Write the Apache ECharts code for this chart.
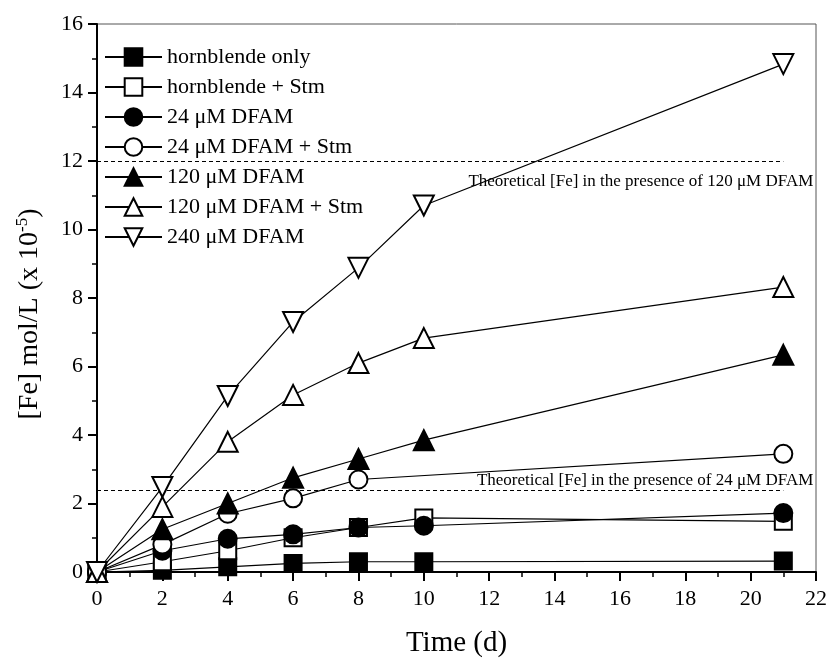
<!DOCTYPE html>
<html>
<head>
<meta charset="utf-8">
<script src="https://cdn.jsdelivr.net/npm/echarts@6/dist/echarts.min.js"></script>
<style>
html, body { margin: 0; padding: 0; background: #fff; }
#main { width: 830px; height: 659px; }
</style>
</head>
<body>
<div id="main"></div>
<script>
// sampling days
var days = [0, 2, 4, 6, 8, 10, 21];
// [Fe] values (x 1e-5 mol/L), null = not measured
var hornOnly = [0, 0.05, 0.15, 0.25, 0.3, 0.3, 0.32];
var hornStm = [0, 0.3, 0.62, 1.0, 1.3, 1.58, 1.48];
var dfam24 = [0, 0.62, 0.97, 1.1, 1.3, 1.35, 1.72];
var dfam24Stm = [0, 0.8, 1.7, 2.15, 2.7, null, 3.45];
var dfam120 = [0, 1.25, 2.0, 2.75, 3.3, 3.85, 6.34];
var dfam120Stm = [0, 1.9, 3.8, 5.17, 6.1, 6.83, 8.32];
var dfam240 = [0, 2.48, 5.14, 7.3, 8.88, 10.7, 14.83];

var names = [
    "hornblende only",
    "hornblende + Stm",
    "24 \u03bcM DFAM",
    "24 \u03bcM DFAM + Stm",
    "120 \u03bcM DFAM",
    "120 \u03bcM DFAM + Stm",
    "240 \u03bcM DFAM"
];
var values = [hornOnly, hornStm, dfam24, dfam24Stm, dfam120, dfam120Stm, dfam240];
var symbols = ["rect", "rect", "circle", "circle", "triangle", "triangle", "triangle"];
var filled = [true, false, true, false, true, false, false];
var rotate = [0, 0, 0, 0, 0, 0, 180];

// theoretical limits
var theoryLevels = [12, 2.4];
var theoryEnd = 21;
var theoryText = [
    "Theoretical [Fe] in the presence of 120 \u03bcM DFAM",
    "Theoretical [Fe] in the presence of 24 \u03bcM DFAM"
];

var font = "'Liberation Serif', 'Times New Roman', serif";

var s = document.getElementById("main");
var c = echarts.init(s);

var series = names.map(function (n, i) {
    var pts = [];
    for (var k = 0; k < days.length; k++) {
        if (values[i][k] != null) pts.push([days[k], values[i][k]]);
    }
    var sz = symbols[i] == "triangle" ? 20 : (symbols[i] == "rect" ? 17 : 18);
    return {
        name: n,
        type: "line",
        data: pts,
        symbol: symbols[i],
        symbolSize: sz,
        symbolRotate: rotate[i],
        showAllSymbol: true,
        clip: false,
        lineStyle: { color: "#000", width: 1.2 },
        itemStyle: {
            color: filled[i] ? "#000" : "#fff",
            borderColor: "#000",
            borderWidth: 2
        },
        emphasis: { disabled: true },
        z: 2 + i
    };
});

series[0].markLine = {
    silent: true,
    symbol: "none",
    label: { show: false },
    lineStyle: { color: "#000", type: [4, 3], width: 1 },
    data: theoryLevels.map(function (v) {
        return [{ coord: [0, v] }, { coord: [theoryEnd, v] }];
    })
};

var m = {
    animation: false,
    backgroundColor: "#fff",
    grid: {
        left: 97, right: 14, top: 24, bottom: 87,
        outerBoundsMode: "none",
        show: true, borderColor: "#555", borderWidth: 1
    },
    legend: {
        orient: "vertical",
        left: 99,
        top: 41,
        itemWidth: 57,
        itemHeight: 22,
        itemGap: 8,
        symbolRotate: "inherit",
        textStyle: { fontFamily: font, fontSize: 22, color: "#000", lineHeight: 22 },
        data: names
    },
    xAxis: {
        type: "value",
        min: 0, max: 22, interval: 2,
        name: "Time (d)",
        nameLocation: "middle",
        nameGap: 57,
        nameTextStyle: { fontFamily: font, fontSize: 29, color: "#000" },
        axisLine: { lineStyle: { color: "#000", width: 2 } },
        axisTick: { length: 9, lineStyle: { color: "#000", width: 2 } },
        minorTick: { show: true, splitNumber: 2, length: 5, lineStyle: { color: "#000", width: 1.5 } },
        axisLabel: { fontFamily: font, fontSize: 22, color: "#000", margin: 16 },
        splitLine: { show: false }
    },
    yAxis: {
        type: "value",
        min: 0, max: 16, interval: 2,
        name: "{a|[Fe] mol/L (x 10}{s|-5}{a|)}",
        nameLocation: "middle",
        nameGap: 52,
        nameRotate: 90,
        nameTextStyle: {
            padding: [0, 32, 0, 0],
            rich: {
                a: { fontFamily: font, fontSize: 28, color: "#000", lineHeight: 30 },
                s: { fontFamily: font, fontSize: 17, color: "#000", lineHeight: 30, padding: [0, 0, 14, 0] }
            }
        },
        axisLine: { lineStyle: { color: "#000", width: 2 } },
        axisTick: { length: 9, lineStyle: { color: "#000", width: 2 } },
        minorTick: { show: true, splitNumber: 2, length: 5, lineStyle: { color: "#000", width: 1.5 } },
        axisLabel: { fontFamily: font, fontSize: 22, color: "#000", margin: 14 },
        splitLine: { show: false }
    },
    series: series
};

m && "object" == typeof m && c.setOption(m, true);

// annotation texts next to the dashed lines
var p120 = c.convertToPixel({ gridIndex: 0 }, [theoryEnd, theoryLevels[0]]);
var p24 = c.convertToPixel({ gridIndex: 0 }, [theoryEnd, theoryLevels[1]]);
c.setOption({
    graphic: [
        {
            type: "text", x: p120[0] + 30, y: p120[1] + 12, z: 50,
            style: { text: theoryText[0], font: "17px " + font, fill: "#000", align: "right", verticalAlign: "top" }
        },
        {
            type: "text", x: p24[0] + 30, y: p24[1] - 1, z: 50,
            style: { text: theoryText[1], font: "17px " + font, fill: "#000", align: "right", verticalAlign: "bottom" }
        }
    ]
});
</script>
</body>
</html>
